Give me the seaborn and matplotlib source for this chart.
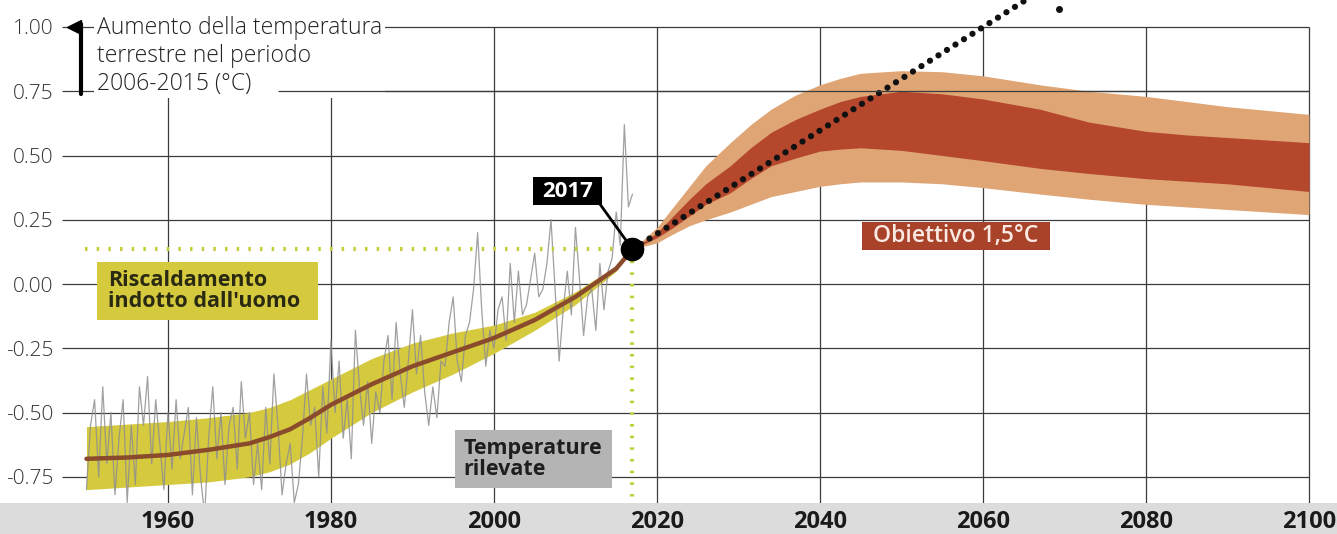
import numpy as np
import pandas as pd
import matplotlib
matplotlib.use('Agg')
import matplotlib.pyplot as plt
from matplotlib.patches import Rectangle
import seaborn as sns

# observed temperature anomaly (two readings per year, 1950 -> 2017)
obs_years = np.arange(1950, 2017.01, 0.5)
obs_values = [
    -0.80, -0.55, -0.45, -0.75, -0.40, -0.70, -0.50, -0.82, -0.60, -0.45,
    -0.85, -0.55, -0.78, -0.40, -0.55, -0.36, -0.70, -0.45, -0.62, -0.80,
    -0.50, -0.72, -0.45, -0.68, -0.58, -0.48, -0.82, -0.52, -0.75, -0.90,
    -0.60, -0.40, -0.68, -0.50, -0.78, -0.55, -0.48, -0.72, -0.38, -0.60,
    -0.50, -0.78, -0.62, -0.80, -0.48, -0.70, -0.35, -0.55, -0.82, -0.70,
    -0.62, -0.85, -0.78, -0.60, -0.35, -0.55, -0.48, -0.75, -0.40, -0.58,
    -0.22, -0.50, -0.30, -0.60, -0.45, -0.68, -0.18, -0.40, -0.55, -0.38,
    -0.62, -0.42, -0.50, -0.30, -0.20, -0.45, -0.15, -0.35, -0.48, -0.30,
    -0.10, -0.35, -0.20, -0.42, -0.55, -0.40, -0.52, -0.30, -0.32, -0.15,
    -0.05, -0.30, -0.38, -0.20, -0.15, -0.02, 0.20, -0.10, -0.32, -0.18,
    -0.25, -0.10, -0.05, -0.22, 0.08, -0.15, 0.05, -0.12, -0.08, 0.02,
    0.12, -0.05, -0.02, 0.08, 0.25, -0.02, -0.30, -0.10, 0.05, -0.12,
    0.22, 0.02, -0.20, -0.05, -0.02, -0.18, 0.08, -0.10, 0.05, 0.10,
    0.28, 0.15, 0.62, 0.30, 0.35,
]

# human-induced warming (trend line and its range)
hist_years = [1950, 1955, 1960, 1965, 1970, 1972.5, 1975, 1977.5, 1980, 1982.5, 1985,
              1990, 1995, 2000, 2005, 2010, 2015, 2017]
hist_mid = [-0.68, -0.675, -0.665, -0.645, -0.62, -0.595, -0.565, -0.52, -0.47, -0.43, -0.39,
            -0.32, -0.265, -0.21, -0.14, -0.05, 0.06, 0.135]
hist_hi = [-0.555, -0.545, -0.535, -0.52, -0.50, -0.48, -0.45, -0.41, -0.37, -0.33, -0.29,
           -0.23, -0.19, -0.16, -0.11, -0.03, 0.07, 0.135]
hist_lo = [-0.80, -0.79, -0.78, -0.77, -0.75, -0.73, -0.70, -0.655, -0.60, -0.55, -0.50,
           -0.42, -0.35, -0.27, -0.18, -0.08, 0.05, 0.135]

# 1.5 C pathway ranges
proj_years = [2017, 2020, 2022, 2024, 2026, 2029, 2031.5, 2034, 2037, 2040, 2042.5, 2045, 2050,
              2055, 2060, 2067, 2073, 2080, 2085, 2090, 2095, 2100]
outer_hi = [0.135, 0.22, 0.30, 0.38, 0.46, 0.55, 0.62, 0.68, 0.735, 0.775, 0.80, 0.82, 0.83,
            0.826, 0.81, 0.775, 0.75, 0.73, 0.71, 0.69, 0.675, 0.66]
inner_hi = [0.135, 0.20, 0.265, 0.33, 0.39, 0.46, 0.53, 0.59, 0.64, 0.68, 0.71, 0.73, 0.75,
            0.74, 0.72, 0.68, 0.63, 0.594, 0.58, 0.57, 0.56, 0.55]
inner_lo = [0.135, 0.18, 0.22, 0.265, 0.31, 0.355, 0.41, 0.46, 0.49, 0.517, 0.525, 0.53, 0.52,
            0.50, 0.48, 0.45, 0.43, 0.41, 0.40, 0.39, 0.375, 0.36]
outer_lo = [0.135, 0.16, 0.195, 0.227, 0.25, 0.28, 0.31, 0.34, 0.36, 0.38, 0.39, 0.397, 0.397,
            0.39, 0.375, 0.35, 0.33, 0.31, 0.30, 0.29, 0.28, 0.27]

# current-rate extrapolation
trend_years = [2017, 2066]
trend_values = [0.135, 1.12]

now_year = 2017
now_value = 0.135

x_ticks = [1960, 1980, 2000, 2020, 2040, 2060, 2080, 2100]
y_ticks = [1.00, 0.75, 0.50, 0.25, 0.00, -0.25, -0.50, -0.75]
y_labels = ['1.00', '0.75', '0.50', '0.25', '0.00', '-0.25', '-0.50', '-0.75']

sns.set_theme(style='white')
plt.rcParams['font.family'] = ['Open Sans', 'DejaVu Sans']

fig = plt.figure(figsize=(13.37, 5.34), dpi=100)
fig.patch.set_facecolor('white')
ax = fig.add_axes([62 / 1337, 31 / 534, (1313 - 62) / 1337, 503 / 534])
ax.set_xlim(1947.0, 2100.5)
ax.set_ylim(-0.852, 1.105)
ax.patch.set_alpha(0)
for s in ax.spines.values():
    s.set_visible(False)

# bottom strip behind the year labels
strip = Rectangle((0, 0), 1, 31 / 534, transform=fig.transFigure,
                  facecolor='#dcdcdc', edgecolor='none', zorder=-5)
fig.add_artist(strip)

# grid
grid_c = '#3c3c3c'
ax.hlines(y_ticks, 1947.0, 2100, color=grid_c, lw=0.9, zorder=1)
ax.vlines(x_ticks, -0.852, 1.0, color=grid_c, lw=0.9, zorder=1)

# human induced band + observations
ax.fill_between(hist_years, hist_lo, hist_hi, color='#d5c93e', lw=0, zorder=2)
obs = pd.DataFrame({'year': obs_years, 'anomaly': obs_values})
sns.lineplot(data=obs, x='year', y='anomaly', estimator=None, color='#8f8f8f',
             lw=0.9, alpha=0.85, ax=ax, zorder=3)
hist = pd.DataFrame({'year': hist_years, 'mid': hist_mid})
sns.lineplot(data=hist, x='year', y='mid', estimator=None, color='#8a4a2c',
             lw=3.2, ax=ax, zorder=4)

# yellow guides
ax.plot([1949.8, now_year], [now_value, now_value], color='#c3cf3a', lw=3,
        ls=(0, (0.6, 2.2)), zorder=5)
ax.plot([now_year, now_year], [now_value, -0.84], color='#c3cf3a', lw=3,
        ls=(0, (0.6, 2.2)), zorder=5, clip_on=False)

# projection bands
ax.fill_between(proj_years, outer_lo, outer_hi, color='#dfa575', lw=0, zorder=2)
ax.fill_between(proj_years, inner_lo, inner_hi, color='#b5472d', lw=0, zorder=2)

# dotted extrapolation
tr = pd.DataFrame({'year': trend_years, 'v': trend_values})
sns.lineplot(data=tr, x='year', y='v', estimator=None, color='#111111', lw=4.5,
             ls=(0, (0.01, 1.6)), ax=ax, zorder=6)
ln = ax.lines[-1]
ln.set_dash_capstyle('round')
ln.set_clip_on(False)
ax.plot([2069.3], [1.07], 'o', ms=4, color='#111111', zorder=6, clip_on=False)

ax.plot([now_year], [now_value], 'o', ms=16, color='black', zorder=7)

# 2017 callout
ax.plot([2012.8, now_year], [0.32, now_value], color='black', lw=2, zorder=7)
ax.add_patch(Rectangle((2004.8, 0.307), 8.45, 0.109, facecolor='black', edgecolor='none', zorder=8))
ax.text(2009.0, 0.360, '2017', color='white', fontsize=16, fontweight='bold',
        ha='center', va='center', zorder=9)

# labels in boxes
ax.add_patch(Rectangle((1951.3, -0.14), 27.1, 0.226, facecolor='#d5c93e', edgecolor='none', zorder=8))
ax.text(1952.6, -0.027, "Riscaldamento\nindotto dall'uomo", color='#2a2a12', fontsize=15.5,
        fontweight='bold', ha='left', va='center', linespacing=0.95, zorder=9)

ax.add_patch(Rectangle((1995.2, -0.794), 19.3, 0.226, facecolor='#b4b4b4', edgecolor='none', zorder=8))
ax.text(1996.3, -0.681, 'Temperature\nrilevate', color='#1e1e1e', fontsize=15.5,
        fontweight='bold', ha='left', va='center', linespacing=0.95, zorder=9)

ax.add_patch(Rectangle((2045.2, 0.132), 23.0, 0.109, facecolor='#a8432a', edgecolor='none', zorder=8))
ax.text(2056.7, 0.187, 'Obiettivo 1,5°C', color='#fbe9e4', fontsize=16.5,
        fontweight='semibold', ha='center', va='center', zorder=9)

# axis title at top left
ax.text(1951.3, 0.888, 'Aumento della temperatura\nterrestre nel periodo\n2006-2015 (°C)',
        fontsize=16.5, fontweight='light', color='#222222', ha='left', va='center',
        linespacing=1.22, zorder=9,
        bbox=dict(facecolor='white', edgecolor='none', pad=2))
ax.hlines([0.75], 1973.5, 2100, color=grid_c, lw=0.9, zorder=10)
ax.plot([1948.5], [1.0], marker='<', ms=10, color='black', zorder=10, clip_on=False)
ax.plot([1949.3, 1949.3], [1.01, 0.74], color='black', lw=3, zorder=10, clip_on=False)

# ticks
ax.set_xticks(x_ticks)
ax.set_xticklabels([str(t) for t in x_ticks])
ax.set_yticks(y_ticks)
ax.set_yticklabels(y_labels)
ax.tick_params(axis='x', length=0, pad=5, labelsize=17, labelcolor='#1a1a1a')
ax.tick_params(axis='y', length=0, pad=6, labelsize=15, labelcolor='#333333')
for lbl in ax.get_xticklabels():
    lbl.set_fontweight('bold')
for lbl in ax.get_yticklabels():
    lbl.set_fontweight('light')
ax.set_xlabel('')
ax.set_ylabel('')

fig.savefig('out.png', dpi=100)
